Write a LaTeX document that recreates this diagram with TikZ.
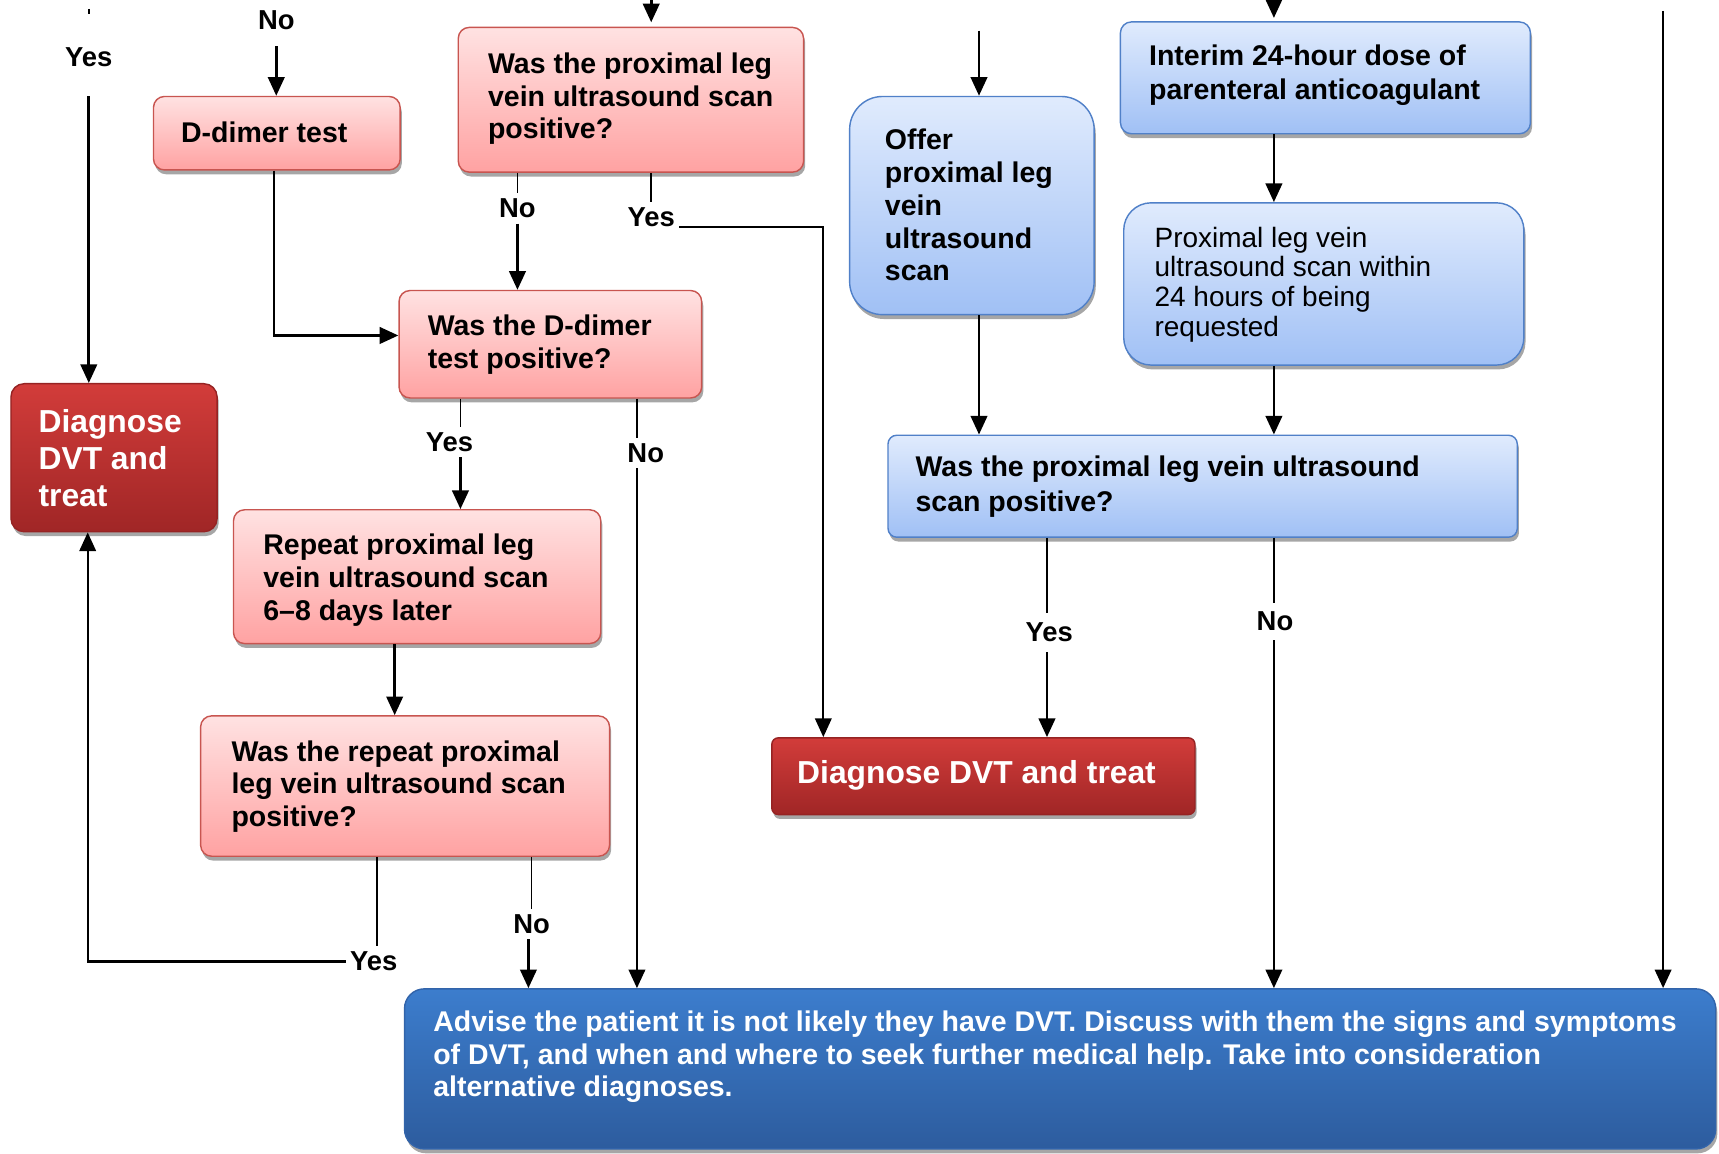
\documentclass[tikz,border=0pt]{standalone}
\usepackage{fontspec}
\setmainfont{Liberation Sans}
\usetikzlibrary{arrows.meta,shadows}
\definecolor{pinkT}{RGB}{255,226,226}
\definecolor{pinkB}{RGB}{255,162,162}
\definecolor{pinkD}{RGB}{200,85,80}
\definecolor{redT}{RGB}{210,60,58}
\definecolor{redB}{RGB}{160,38,38}
\definecolor{redD}{RGB}{150,35,35}
\definecolor{blueT}{RGB}{224,235,253}
\definecolor{blueB}{RGB}{160,192,245}
\definecolor{blueD}{RGB}{80,128,200}
\definecolor{advT}{RGB}{60,125,205}
\definecolor{advB}{RGB}{45,92,158}
\definecolor{advD}{RGB}{50,100,170}
\begin{document}
\begin{tikzpicture}[x=1pt,y=1pt,
  shadowed/.style={drop shadow={shadow xshift=1.5pt,shadow yshift=-4pt,opacity=0.35,fill=black}},
  pinkbox/.style={shadowed,draw=pinkD,line width=1.3pt,rounded corners=10pt,top color=pinkT,bottom color=pinkB,inner sep=0pt},
  redbox/.style={shadowed,draw=redD,line width=1.3pt,rounded corners=12pt,top color=redT,bottom color=redB,inner sep=0pt},
  bluebox/.style={shadowed,draw=blueD,line width=1.3pt,rounded corners=10pt,top color=blueT,bottom color=blueB,inner sep=0pt},
  advbox/.style={shadowed,draw=advD,line width=1.3pt,rounded corners=18pt,top color=advT,bottom color=advB,inner sep=0pt},
  txt/.style={anchor=west,align=left,inner sep=0pt,yshift=-3pt,font=\bfseries\fontsize{26}{30}\selectfont},
  wtxt/.style={txt,text=white,font=\bfseries\fontsize{29}{34}\selectfont},
  lbl/.style={inner xsep=4pt,inner ysep=5pt,font=\bfseries\fontsize{25}{30}\selectfont},
  thinl/.style={line width=1.3pt},
  arr/.style={line width=2.4pt,-{Triangle[length=17pt,width=15pt]}},
]
\useasboundingbox (0,0) rectangle (1568,-1052);

% column coordinates
\coordinate (c80) at (80,0);
\coordinate (c250) at (250,0);
\coordinate (c344) at (344,0);
\coordinate (c360) at (360,0);
\coordinate (c420) at (420,0);
\coordinate (c482) at (482,0);
\coordinate (c581) at (581,0);
\coordinate (c751) at (751,0);
\coordinate (c893) at (893,0);
\coordinate (c955) at (955,0);
\coordinate (c1162) at (1162,0);

% boxes
\node[pinkbox,minimum width=225pt,minimum height=67pt] (dd) at (252.5,-121.5) {};
\node[txt] (ddt) at (165,-118) {D-dimer test};

\node[pinkbox,minimum width=315pt,minimum height=132pt] (q1) at (575.5,-91) {};
\node[txt] (q1t) at (445,-87) {Was the proximal leg\\vein ultrasound scan\\positive?};

\node[pinkbox,minimum width=276pt,minimum height=98pt] (dp) at (502,-314) {};
\node[txt] (dpt) at (390,-311) {Was the D-dimer\\test positive?};

\node[redbox,minimum width=188pt,minimum height=135pt] (dl) at (104,-417.5) {};
\node[wtxt] (dlt) at (35,-415) {Diagnose\\DVT and\\treat};

\node[pinkbox,minimum width=335pt,minimum height=122pt] (rep) at (380.5,-526) {};
\node[txt] (rept) at (240,-526.5) {Repeat proximal leg\\vein ultrasound scan\\6–8 days later};

\node[pinkbox,minimum width=373pt,minimum height=128pt] (wr) at (369.5,-717) {};
\node[txt] (wrt) at (211,-714.5) {Was the repeat proximal\\leg vein ultrasound scan\\positive?};

\node[bluebox,rounded corners=30pt,minimum width=223pt,minimum height=199pt] (off) at (886.5,-187.5) {};
\node[txt] (offt) at (807,-184) {Offer\\proximal leg\\vein\\ultrasound\\scan};

\node[bluebox,minimum width=374pt,minimum height=102pt] (int) at (1209,-71) {};
\node[txt,font=\bfseries\fontsize{26}{31}\selectfont] (intt) at (1048,-65.5) {Interim 24-hour dose of\\parenteral anticoagulant};

\node[bluebox,rounded corners=25pt,minimum width=365pt,minimum height=148pt] (pw) at (1207.5,-259) {};
\node[txt,font=\fontsize{25.5}{27}\selectfont] (pwt) at (1053,-256.5) {Proximal leg vein\\ultrasound scan within\\24 hours of being\\requested};

\node[bluebox,rounded corners=8pt,minimum width=574pt,minimum height=93pt] (bq) at (1097,-443.5) {};
\node[txt,font=\bfseries\fontsize{26}{32}\selectfont] (bqt) at (835,-441) {Was the proximal leg vein ultrasound\\scan positive?};

\node[redbox,rounded corners=6pt,minimum width=386pt,minimum height=70pt] (dm) at (897,-708) {};
\node[wtxt] (dmt) at (727,-704) {Diagnose DVT and treat};

\node[advbox,minimum width=1196pt,minimum height=146pt] (adv) at (967,-975) {};
\node[txt,text=white,font=\bfseries\fontsize{26}{29.5}\selectfont] (advt) at (395,-961) {Advise the patient it is not likely they have DVT. Discuss with them the signs and symptoms\\of DVT, and when and where to seek further medical help. Take into consideration\\alternative diagnoses.};

% top-left Yes
\coordinate (ya) at (81,-8);
\coordinate (yb) at (81,-13);
\draw[thinl] (ya) -- (yb);
\node[lbl] (lya) at (81,-52) {Yes};
\coordinate (yc) at (81,-88);
\draw[arr] (yc) -- (yc |- dl.north);

% top No into D-dimer test
\node[lbl] (lna) at (252,-18) {No};
\coordinate (na) at (252,-42);
\draw[arr] (na) -- (na |- dd.north);

% incoming arrows from above
\coordinate (tq) at (594,0);
\draw[arr,shorten >=4pt] (tq) -- (tq |- q1.north);
\coordinate (to) at (893,-28);
\draw[arr] (to) -- (to |- off.north);
\coordinate (ti) at (1162,0);
\draw[arr,shorten >=3pt] (ti) -- (ti |- int.north);
\coordinate (tr) at (1517,-10);
\draw[arr] (tr) -- (tr |- adv.north);

% D-dimer test -> D-dimer positive?
\draw[arr] (dd.south -| c250) |- ([yshift=8pt]dp.west);

% q1 No / Yes
\node[lbl] (lnb) at (472,-190) {No};
\draw[thinl] (q1.south -| lnb) -- (lnb.north);
\draw[arr] (lnb.south) -- (lnb.south |- dp.north);
\node[lbl] (lyb) at (594,-198) {Yes};
\draw[thinl] (q1.south -| lyb) -- (lyb.north);
\draw[arr,line width=1.8pt] ([yshift=-9pt]lyb.east) -| (c751 |- dm.north);

% dp Yes / No
\node[lbl] (lyc) at (410,-403) {Yes};
\draw[thinl] (dp.south -| c420) -- (lyc.north -| c420);
\draw[arr] (lyc.south -| c420) -- (c420 |- rep.north);
\node[lbl] (lnc) at (589,-413) {No};
\draw[thinl] (dp.south -| c581) -- (lnc.north -| c581);
\draw[arr] (lnc.south -| c581) -- (c581 |- adv.north);

% repeat -> was the repeat
\draw[arr] (rep.south -| c360) -- (c360 |- wr.north);

% wr Yes / No
\node[lbl] (lyd) at (341,-877) {Yes};
\draw[thinl] (wr.south -| c344) -- (lyd.north -| c344);
\draw[arr,line width=2pt] (lyd.west) -| (dl.south -| c80);
\node[lbl] (lnd) at (485,-843) {No};
\draw[thinl] (wr.south -| lnd) -- (lnd.north);
\draw[arr] (lnd.south -| c482) -- (c482 |- adv.north);

% blue column
\draw[arr] (off.south -| c893) -- (c893 |- bq.north);
\draw[arr] (int.south -| c1162) -- (c1162 |- pw.north);
\draw[arr] (pw.south -| c1162) -- (c1162 |- bq.north);

% bq Yes / No
\node[lbl,inner ysep=9pt] (lye) at (957,-577) {Yes};
\draw[thinl] (bq.south -| c955) -- (lye.north -| c955);
\draw[arr] (lye.south -| c955) -- (c955 |- dm.north);
\node[lbl,inner ysep=8pt] (lne) at (1163,-567) {No};
\draw[thinl] (bq.south -| c1162) -- (lne.north -| c1162);
\draw[arr] (lne.south -| c1162) -- (c1162 |- adv.north);
\end{tikzpicture}
\end{document}
